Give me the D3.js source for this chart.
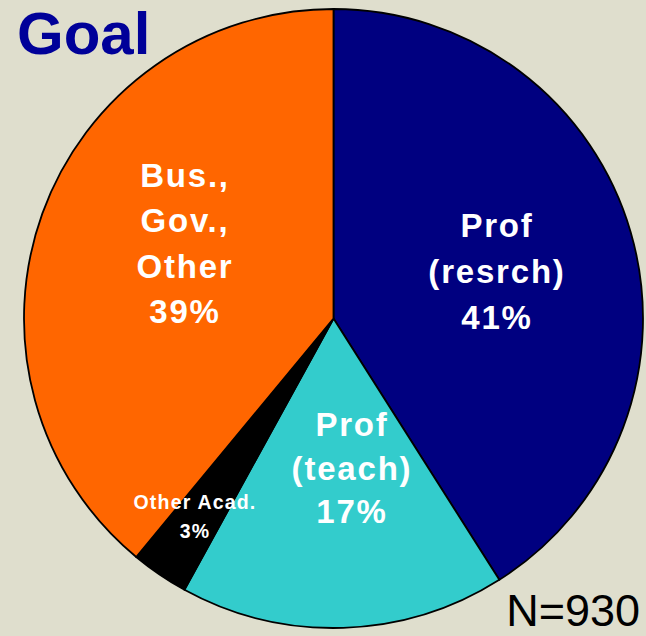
<!DOCTYPE html>
<html><head><meta charset="utf-8">
<script src="https://cdn.jsdelivr.net/npm/d3@7"></script>
<style>html,body{margin:0;padding:0;background:#dfdecd;}svg{display:block;}</style>
</head><body>
<script>
const categories = ["Prof (resrch)", "Prof (teach)", "Other Acad.", "Bus., Gov., Other"];
const values = [41, 17, 3, 39];
const colors = ["#000080", "#33CCCC", "#000000", "#FF6600"];
const labelLines = [["Prof", "(resrch)", "41%"], ["Prof", "(teach)", "17%"], ["Other Acad.", "3%"], ["Bus.,", "Gov.,", "Other", "39%"]];
const title = "Goal";
const note = "N=930";

const W = 646, H = 636;
const cx = 333.5, cy = 318.5, R = 309.5;
const svg = d3.select("body").append("svg").attr("width", W).attr("height", H);
svg.append("rect").attr("width", W).attr("height", H).attr("fill", "#dfdecd");

const pie = d3.pie().value(d => d).sort(null);
const arcs = pie(values);
const arc = d3.arc().innerRadius(0).outerRadius(R);
const g = svg.append("g").attr("transform", `translate(${cx},${cy})`);
g.selectAll("path").data(arcs).join("path")
  .attr("d", arc).attr("fill", (d, i) => colors[i])
  .attr("stroke", "#000").attr("stroke-width", 1.8).attr("stroke-linejoin", "round");

// label placement: [x, first baseline, line step, font size, letter spacing]
const labelPos = [
  [497, 237, 46, 33, 1.8],
  [352, 436, 43.5, 33, 1.8],
  [195, 509, 29, 19.5, 1.2],
  [185, 187, 45.3, 33, 1.8]
];
labelLines.forEach((lines, i) => {
  const [x, y0, step, fs, ls] = labelPos[i];
  const t = svg.append("text").attr("text-anchor", "middle")
    .attr("font-family", "Liberation Sans, Arial, sans-serif").attr("font-weight", "bold")
    .attr("font-size", fs).attr("fill", "#fff").attr("letter-spacing", ls);
  lines.forEach((s, j) => t.append("tspan").attr("x", x).attr("y", y0 + j * step).text(s));
});

svg.append("text").attr("x", 17).attr("y", 54)
  .attr("font-family", "Liberation Sans, Arial, sans-serif").attr("font-weight", "bold")
  .attr("font-size", 60).attr("fill", "#000099").text(title);

svg.append("text").attr("x", 640).attr("y", 626).attr("text-anchor", "end")
  .attr("font-family", "Liberation Sans, Arial, sans-serif")
  .attr("font-size", 45).attr("fill", "#000").text(note);
</script>
</body></html>
